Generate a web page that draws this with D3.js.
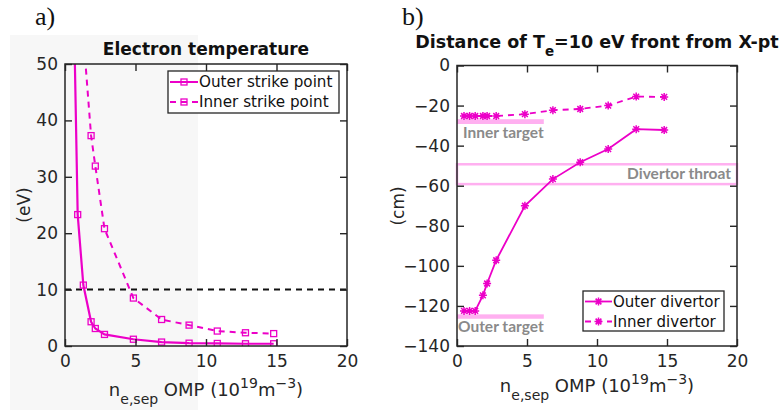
<!DOCTYPE html>
<html>
<head>
<meta charset="utf-8">
<script src="https://cdn.jsdelivr.net/npm/d3@7"></script>
<style>
  html, body { margin: 0; padding: 0; background: #fff; }
  svg { display: block; font-family: "DejaVu Sans", sans-serif; }
</style>
</head>
<body>
<svg id="fig" width="783" height="414"></svg>
<script>
// Upstream separatrix density at the outer midplane (1e19 m^-3)
const density = [0.5, 0.9, 1.3, 1.85, 2.15, 2.8, 4.85, 6.85, 8.8, 10.8, 12.8, 14.8];

// a) Electron temperature at the strike points (eV)
const outerTe = [77, 23.3, 10.8, 4.3, 3.1, 2.05, 1.2, 0.7, 0.5, 0.45, 0.4, 0.4];
const innerTe = [null, null, 55, 37.3, 31.9, 20.8, 8.5, 4.7, 3.7, 2.65, 2.35, 2.2];

// b) Distance of the Te = 10 eV front from the X-point (cm)
const outerDist = [-122.5, -122.5, -122.5, -114.7, -108.8, -97.2, -70, -56.7, -48.3, -41.7, -31.8, -32.2];
const innerDist = [-25.2, -25.2, -25.2, -25.2, -25.2, -25.2, -24.3, -22.3, -21.7, -20, -15.5, -15.7];

// Reference levels
const teThreshold = 10;
const innerTarget = [-26.8, -29.2];
const outerTarget = [-124.2, -126.4];
const throat = [-49.3, -59.2];
const targetExtent = 6.2;

const xTicks = [0, 5, 10, 15, 20];
const teTicks = [0, 10, 20, 30, 40, 50];
const distTicks = [0, -20, -40, -60, -80, -100, -120, -140];

const MAG = "#ec00c8";
const PINK = "#ffb0f0";
const AX = "#262626";
const GREYTXT = "#8a8a8a";

const svg = d3.select("#fig");

// light panel backdrop behind the left plot
svg.append("rect").attr("x", 10).attr("y", 35).attr("width", 188).attr("height", 375)
  .attr("fill", "#f7f7f7");

function frame(g, x, y, yTickVals) {
  const [x0, x1] = x.range();
  const [y0, y1] = y.range();
  const tk = 7;
  const bottom = g.append("g").attr("transform", `translate(0,${y0})`)
    .call(d3.axisBottom(x).tickValues(xTicks).tickSizeInner(-tk).tickSizeOuter(0).tickPadding(9));
  const top = g.append("g").attr("transform", `translate(0,${y1})`)
    .call(d3.axisTop(x).tickValues(xTicks).tickSizeInner(-tk).tickSizeOuter(0).tickFormat(""));
  const left = g.append("g").attr("transform", `translate(${x0},0)`)
    .call(d3.axisLeft(y).tickValues(yTickVals).tickSizeInner(-tk).tickSizeOuter(0).tickPadding(7));
  const right = g.append("g").attr("transform", `translate(${x1},0)`)
    .call(d3.axisRight(y).tickValues(yTickVals).tickSizeInner(-tk).tickSizeOuter(0).tickFormat(""));
  [bottom, top, left, right].forEach(a => {
    a.select(".domain").remove();
    a.selectAll(".tick line").attr("stroke", AX).attr("stroke-width", 1.4);
    a.selectAll(".tick text").attr("fill", AX).style("font-size", "17px")
      .style("font-family", "DejaVu Sans, sans-serif");
  });
  g.append("rect").attr("x", x0).attr("y", y1).attr("width", x1 - x0).attr("height", y0 - y1)
    .attr("fill", "none").attr("stroke", AX).attr("stroke-width", 1.5);
}

function xLabel(g, cx, baseline) {
  const t = g.append("text").attr("x", cx).attr("y", baseline).attr("text-anchor", "middle")
    .attr("fill", AX).style("font-size", "18px");
  t.append("tspan").text("n");
  t.append("tspan").attr("dy", 8).style("font-size", "14px").text("e,sep");
  t.append("tspan").attr("dy", -8).text(" OMP (10");
  t.append("tspan").attr("dy", -8).style("font-size", "14px").text("19");
  t.append("tspan").attr("dy", 8).text("m");
  t.append("tspan").attr("dy", -8).style("font-size", "14px").text("−3");
  t.append("tspan").attr("dy", 8).text(")");
}

function squareMarker(g, pts, x, y) {
  g.selectAll(null).data(pts).enter().append("rect")
    .attr("x", d => x(d[0]) - 3).attr("y", d => y(d[1]) - 3)
    .attr("width", 6).attr("height", 6)
    .attr("fill", "none").attr("stroke", MAG).attr("stroke-width", 1.3);
}

function starMarker(g, pts, x, y) {
  const r = 4, rd = r * 0.72;
  const path = `M${-r},0H${r}M0,${-r}V${r}M${-rd},${-rd}L${rd},${rd}M${-rd},${rd}L${rd},${-rd}`;
  g.selectAll(null).data(pts).enter().append("path")
    .attr("transform", d => `translate(${x(d[0])},${y(d[1])})`)
    .attr("d", path).attr("stroke", MAG).attr("stroke-width", 1.5).attr("fill", "none");
}

// ---------- a) Electron temperature ----------
{
  const x = d3.scaleLinear().domain([0, 20]).range([65, 347]);
  const y = d3.scaleLinear().domain([0, 50]).range([346, 64]);
  const g = svg.append("g");

  g.append("defs").append("clipPath").attr("id", "clipA")
    .append("rect").attr("x", 65).attr("y", 64).attr("width", 282).attr("height", 282);

  const plot = g.append("g").attr("clip-path", "url(#clipA)");

  plot.append("line").attr("x1", x(0)).attr("x2", x(20))
    .attr("y1", y(teThreshold)).attr("y2", y(teThreshold))
    .attr("stroke", "#111").attr("stroke-width", 2).attr("stroke-dasharray", "6,5");

  const outerPts = density.map((d, i) => [d, outerTe[i]]).filter(p => p[1] != null);
  const innerPts = density.map((d, i) => [d, innerTe[i]]).filter(p => p[1] != null);
  const line = d3.line().x(d => x(d[0])).y(d => y(d[1]));

  plot.append("path").attr("d", line(innerPts)).attr("fill", "none")
    .attr("stroke", MAG).attr("stroke-width", 2).attr("stroke-dasharray", "6,5");
  plot.append("path").attr("d", line(outerPts)).attr("fill", "none")
    .attr("stroke", MAG).attr("stroke-width", 2.2);
  squareMarker(plot, innerPts, x, y);
  squareMarker(plot, outerPts, x, y);

  frame(g, x, y, teTicks);

  g.append("text").attr("x", 206).attr("y", 55).attr("text-anchor", "middle")
    .attr("fill", "#111").style("font-size", "17px").style("font-weight", "bold")
    .text("Electron temperature");

  g.append("text").attr("transform", "translate(30,205) rotate(-90)")
    .attr("text-anchor", "middle").attr("fill", AX).style("font-size", "17px").text("(eV)");

  xLabel(g, 206, 396);

  // legend
  const lg = g.append("g");
  lg.append("rect").attr("x", 168).attr("y", 71).attr("width", 171).attr("height", 42)
    .attr("fill", "#fff").attr("stroke", AX).attr("stroke-width", 1.3);
  [["Outer strike point", null, 82], ["Inner strike point", "6,5", 102]].forEach(([lab, dash, yy]) => {
    lg.append("line").attr("x1", 170).attr("x2", 198).attr("y1", yy).attr("y2", yy)
      .attr("stroke", MAG).attr("stroke-width", 2).attr("stroke-dasharray", dash);
    lg.append("rect").attr("x", 181).attr("y", yy - 3).attr("width", 6).attr("height", 6)
      .attr("fill", "none").attr("stroke", MAG).attr("stroke-width", 1.3);
    lg.append("text").attr("x", 199).attr("y", yy).attr("dy", "0.36em")
      .attr("fill", "#111").style("font-size", "15.2px").text(lab);
  });

  svg.append("text").attr("x", 35).attr("y", 25).attr("fill", "#111")
    .style("font-family", "Liberation Serif, serif").style("font-size", "26px").text("a)");
}

// ---------- b) Distance of the 10 eV front ----------
{
  const x = d3.scaleLinear().domain([0, 20]).range([457, 737]);
  const y = d3.scaleLinear().domain([-140, 0]).range([346, 65.5]);
  const g = svg.append("g");

  // targets and divertor throat
  const band = (lo, hi) => g.append("rect").attr("x", x(0)).attr("width", x(targetExtent) - x(0))
    .attr("y", y(lo)).attr("height", y(hi) - y(lo)).attr("fill", PINK);
  band(innerTarget[0], innerTarget[1]);
  band(outerTarget[0], outerTarget[1]);
  g.append("rect").attr("x", x(0)).attr("width", x(20) - x(0))
    .attr("y", y(throat[0])).attr("height", y(throat[1]) - y(throat[0]))
    .attr("fill", "none").attr("stroke", PINK).attr("stroke-width", 2.5);

  const label = (txt, xx, yy, anchor) => g.append("text").attr("x", xx).attr("y", yy)
    .attr("text-anchor", anchor).attr("fill", GREYTXT)
    .style("font-family", "Lato, sans-serif").style("font-weight", "bold").style("font-size", "15.5px")
    .text(txt);
  label("Inner target", 463, 138, "start");
  label("Outer target", 458, 332, "start");
  label("Divertor throat", 731, 179, "end");

  const outerPts = density.map((d, i) => [d, outerDist[i]]);
  const innerPts = density.map((d, i) => [d, innerDist[i]]);
  const line = d3.line().x(d => x(d[0])).y(d => y(d[1]));

  g.append("path").attr("d", line(innerPts)).attr("fill", "none")
    .attr("stroke", MAG).attr("stroke-width", 1.8).attr("stroke-dasharray", "6,5");
  g.append("path").attr("d", line(outerPts)).attr("fill", "none")
    .attr("stroke", MAG).attr("stroke-width", 1.8);
  starMarker(g, innerPts, x, y);
  starMarker(g, outerPts, x, y);

  frame(g, x, y, distTicks);

  const title = g.append("text").attr("x", 597).attr("y", 48).attr("text-anchor", "middle")
    .attr("fill", "#111").style("font-size", "17.5px").style("font-weight", "bold");
  title.append("tspan").text("Distance of T");
  title.append("tspan").attr("dy", 8).style("font-size", "13.5px").text("e");
  title.append("tspan").attr("dy", -8).text("=10 eV front from X-pt");

  g.append("text").attr("transform", "translate(404,206) rotate(-90)")
    .attr("text-anchor", "middle").attr("fill", AX).style("font-size", "17px").text("(cm)");

  xLabel(g, 597, 392);

  // legend
  const lg = g.append("g");
  lg.append("rect").attr("x", 583).attr("y", 291).attr("width", 141).attr("height", 40)
    .attr("fill", "#fff").attr("stroke", AX).attr("stroke-width", 1.3);
  [["Outer divertor", null, 301.5], ["Inner divertor", "6,5", 321.5]].forEach(([lab, dash, yy]) => {
    lg.append("line").attr("x1", 585).attr("x2", 612).attr("y1", yy).attr("y2", yy)
      .attr("stroke", MAG).attr("stroke-width", 1.8).attr("stroke-dasharray", dash);
    starMarker(lg, [[598.5, yy]], v => v, v => v);
    lg.append("text").attr("x", 613).attr("y", yy).attr("dy", "0.36em")
      .attr("fill", "#111").style("font-size", "15px").text(lab);
  });

  svg.append("text").attr("x", 402).attr("y", 25).attr("fill", "#111")
    .style("font-family", "Liberation Serif, serif").style("font-size", "26px").text("b)");
}
</script>
</body>
</html>
